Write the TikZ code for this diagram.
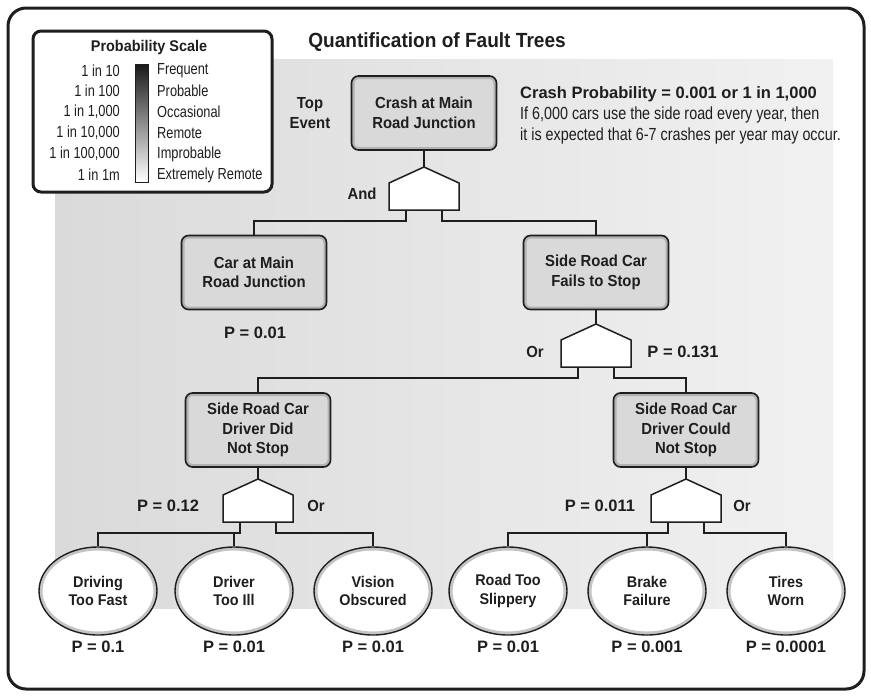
\documentclass[tikz,border=0pt]{standalone}
\usepackage{fontspec}
\setmainfont{Liberation Sans}
\newfontfamily\condfont[FakeStretch=0.8]{Liberation Sans}
\newfontfamily\bodyfont[FakeStretch=0.82]{Liberation Sans}
\newfontfamily\demifont[FakeStretch=0.93]{Liberation Sans}
\usetikzlibrary{shapes.geometric,calc}
\definecolor{panelL}{HTML}{DADADA}
\definecolor{panelR}{HTML}{F1F1F1}
\definecolor{boxfill}{HTML}{D9D9D9}
\definecolor{bevelc}{HTML}{B2B2B2}
\definecolor{ringc}{HTML}{C4C4C4}
\definecolor{ink}{HTML}{1E1E1E}
\tikzset{
  eventbox/.style={rectangle, rounded corners=7pt, minimum width=145pt, minimum height=74pt,
    inner sep=0pt, fill=boxfill, draw=ink, line width=1.6pt, align=center, text=ink,
    font=\demifont\bfseries\fontsize{16}{19.5}\selectfont,
    path picture={\draw[bevelc, line width=6pt, rounded corners=7pt]
      (path picture bounding box.south west) rectangle (path picture bounding box.north east);}},
  leaf/.style={ellipse, minimum width=118pt, minimum height=88pt, inner sep=0pt,
    fill=white, draw=ink, line width=1.4pt, align=center, text=ink,
    font=\demifont\bfseries\fontsize{15.5}{18.5}\selectfont,
    path picture={\draw[ringc, line width=7pt] (path picture bounding box.center)
      ellipse [x radius=59pt, y radius=44pt];}},
  gatesh/.style={draw=ink, line width=1.5pt, fill=white, line join=miter},
  wire/.style={draw=ink, line width=1.4pt},
  lbl/.style={inner sep=0pt, text=ink, font=\demifont\bfseries\fontsize{16}{20}\selectfont, align=center},
  plbl/.style={inner sep=0pt, text=ink, font=\bfseries\fontsize{16.5}{20}\selectfont},
  legl/.style={inner sep=0pt, text=ink, font=\condfont\fontsize{16}{18}\selectfont},
}
\begin{document}
\begin{tikzpicture}[x=1pt,y=-1pt]
\useasboundingbox (0,0) rectangle (871,697);
% outer frame
\draw[ink, line width=3pt, rounded corners=18pt, fill=white] (8,8) rectangle (864,689);
% gray panel
\shade[left color=panelL, right color=panelR] (55,59) rectangle (833,608);
% title
\node[inner sep=0pt, text=ink, font=\demifont\bfseries\fontsize{20.5}{22}\selectfont] (title) at (437,42) {Quantification of Fault Trees};
% legend
\draw[ink, line width=3pt, rounded corners=8pt, fill=white] (33,31) rectangle (272,192);
\node[inner sep=0pt, text=ink, font=\demifont\bfseries\fontsize{15.5}{17}\selectfont] (legtitle) at (149,47) {Probability Scale};
\shade[top color=black!90, bottom color=white] (135,64) rectangle (148,182);
\draw[ink, line width=0.8pt] (135,64) rectangle (148,182);
\node[legl, anchor=east] (l1) at (120,70.5) {1 in 10};
\node[legl, anchor=east] (l2) at (120,91) {1 in 100};
\node[legl, anchor=east] (l3) at (120,112) {1 in 1,000};
\node[legl, anchor=east] (l4) at (120,133) {1 in 10,000};
\node[legl, anchor=east] (l5) at (120,154) {1 in 100,000};
\node[legl, anchor=east] (l6) at (120,175) {1 in 1m};
\node[legl, anchor=west] (r1) at (157,70.5) {Frequent};
\node[legl, anchor=west] (r2) at (157,91) {Probable};
\node[legl, anchor=west] (r3) at (157,112) {Occasional};
\node[legl, anchor=west] (r4) at (157,133) {Remote};
\node[legl, anchor=west] (r5) at (157,154) {Improbable};
\node[legl, anchor=west] (r6) at (157,175) {Extremely Remote};
% crash probability text
\node[inner sep=0pt, anchor=west, text=ink, font=\bfseries\fontsize{16.5}{20}\selectfont] (cp) at (520,94) {Crash Probability = 0.001 or 1 in 1,000};
\node[inner sep=0pt, anchor=west, text=ink, font=\bodyfont\fontsize{17.5}{20}\selectfont] (cp2) at (520,115) {If 6,000 cars use the side road every year, then};
\node[inner sep=0pt, anchor=west, text=ink, font=\bodyfont\fontsize{17.5}{20}\selectfont] (cp3) at (520,135.5) {it is expected that 6-7 crashes per year may occur.};
% event boxes
\node[eventbox] (top) at (424,113) {Crash at Main\\Road Junction};
\node[lbl] (topev) at (310,113) {Top\\Event};
\node[eventbox] (car) at (254,272.5) {Car at Main\\Road Junction};
\node[eventbox] (fail) at (596,272.5) {Side Road Car\\Fails to Stop};
\node[eventbox] (did) at (258,430) {Side Road Car\\Driver Did\\Not Stop};
\node[eventbox] (could) at (686,430) {Side Road Car\\Driver Could\\Not Stop};
% leaves
\node[leaf] (e1) at (98,591) {Driving\\Too Fast};
\node[leaf] (e2) at (234,591) {Driver\\Too Ill};
\node[leaf] (e3) at (373,591) {Vision\\Obscured};
\node[leaf] (e4) at (508,591) {Road Too\\Slippery};
\node[leaf] (e5) at (647,591) {Brake\\Failure};
\node[leaf] (e6) at (786,591) {Tires\\Worn};
% gate coordinates
\coordinate (g1) at (424,167);
\coordinate (g1a) at (406,209);
\coordinate (g1b) at (442,209);
\coordinate (g2) at (596,324);
\coordinate (g2a) at (578,367);
\coordinate (g2b) at (614,367);
\coordinate (g3) at (258,479);
\coordinate (g3a) at (240,522);
\coordinate (g3b) at (276,522);
\coordinate (g4) at (686,479);
\coordinate (g4a) at (668,522);
\coordinate (g4b) at (704,522);
% connectors
\draw[wire] (top.south) -- (g1);
\draw[wire] (g1a) -- ++(0,12) -| (car.north);
\draw[wire] (g1b) -- ++(0,12) -| (fail.north);
\draw[wire] (fail.south) -- (g2);
\draw[wire] (g2a) -- ++(0,11) -| (did.north);
\draw[wire] (g2b) -- ++(0,11) -| (could.north);
\draw[wire] (did.south) -- (g3);
\draw[wire] (g3a) -- ++(0,11) coordinate (j3) -| (e1.north);
\draw[wire] (e2.north) -- (e2.north |- j3);
\draw[wire] (g3b) -- ++(0,11) -| (e3.north);
\draw[wire] (could.south) -- (g4);
\draw[wire] (g4a) -- ++(0,11) coordinate (j4) -| (e4.north);
\draw[wire] (e5.north) -- (e5.north |- j4);
\draw[wire] (g4b) -- ++(0,11) -| (e6.north);
% gates
\foreach \g in {g1,g2,g3,g4}{
  \draw[gatesh] (\g) -- ++(35,16) -- ++(0,27) -- ++(-70,0) -- ++(0,-27) -- cycle;
}
% gate labels
\node[lbl] (andl) at (362,194) {And};
\node[lbl] (or2) at (535,352) {Or};
\node[plbl] (p2) at (683,352) {P = 0.131};
\node[plbl] (p3) at (168,506) {P = 0.12};
\node[lbl] (or3) at (316,506) {Or};
\node[plbl] (p4) at (600,506) {P = 0.011};
\node[lbl] (or4) at (742,506) {Or};
% probabilities
\node[plbl] (pcar) at (255,333) {P = 0.01};
\node[plbl] (pe1) at (98,647) {P = 0.1};
\node[plbl] (pe2) at (234,647) {P = 0.01};
\node[plbl] (pe3) at (373,647) {P = 0.01};
\node[plbl] (pe4) at (508,647) {P = 0.01};
\node[plbl] (pe5) at (647,647) {P = 0.001};
\node[plbl] (pe6) at (786,647) {P = 0.0001};
\end{tikzpicture}
\end{document}
